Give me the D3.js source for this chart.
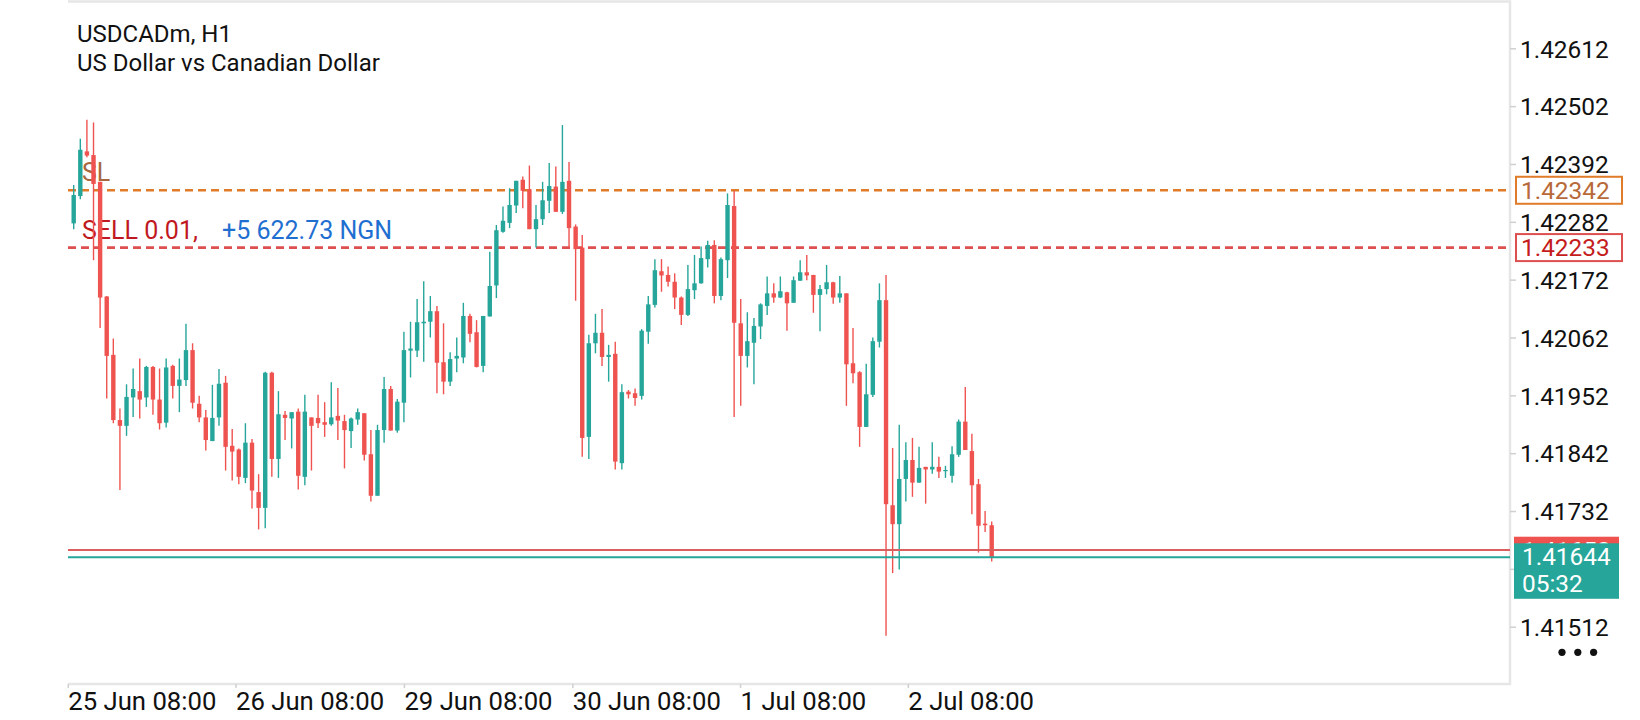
<!DOCTYPE html>
<html>
<head>
<meta charset="utf-8">
<script src="https://cdn.jsdelivr.net/npm/d3@7"></script>
<style>
  body { margin: 0; background: #fff; }
  svg { display: block; font-family: Roboto, "Noto Sans", sans-serif; }
</style>
</head>
<body>
<svg id="chart"></svg>
<script>
// USDCADm H1 candles
const open = [1.42279,1.42331,1.42416,1.42409,1.42358,1.42140,1.42029,1.41905,1.41894,1.41948,
  1.41960,1.41948,1.42006,1.41944,1.41900,1.42008,1.41970,1.41981,1.42038,1.41936,
  1.41910,1.41865,1.41910,1.41976,1.41856,1.41849,1.41795,1.41862,1.41768,1.41738,
  1.41995,1.41831,1.41915,1.41908,1.41921,1.41797,1.41910,1.41909,1.41901,1.41897,
  1.41913,1.41903,1.41884,1.41906,1.41918,1.41840,1.41761,1.41886,1.41964,1.41885,
  1.41938,1.42037,1.42037,1.42089,1.42092,1.42112,1.42015,1.41978,1.42022,1.42024,
  1.42103,1.42072,1.42008,1.42102,1.42161,1.42263,1.42280,1.42313,1.42362,1.42344,
  1.42268,1.42287,1.42322,1.42349,1.42301,1.42360,1.42273,1.42233,1.41873,1.42051,
  1.42071,1.42025,1.42031,1.41823,1.41959,1.41956,1.41951,1.42073,1.42124,1.42188,
  1.42181,1.42168,1.42138,1.42105,1.42152,1.42165,1.42211,1.42238,1.42141,1.42209,
  1.42312,1.42089,1.42027,1.42052,1.42083,1.42122,1.42146,1.42138,1.42148,1.42128,
  1.42170,1.42186,1.42181,1.42143,1.42154,1.42167,1.42138,1.42146,1.42013,1.41996,
  1.41892,1.41953,1.42054,1.42133,1.41743,1.41707,1.41793,1.41829,1.41786,1.41816,
  1.41811,1.41816,1.41809,1.41799,1.41839,1.41902,1.41846,1.41783,1.41708,1.41705];

const high = [1.42352,1.42440,1.42476,1.42471,1.42358,1.42141,1.42060,1.41927,1.41973,1.42003,
  1.42022,1.42008,1.42008,1.42003,1.42022,1.42010,1.42022,1.42088,1.42051,1.41951,
  1.41924,1.41972,1.42002,1.41989,1.41888,1.41851,1.41899,1.41869,1.41802,1.41997,
  1.41997,1.41960,1.41922,1.41920,1.41927,1.41953,1.41910,1.41953,1.41939,1.41977,
  1.41966,1.41915,1.41910,1.41927,1.41918,1.41886,1.41896,1.41987,1.41970,1.41945,
  1.42073,1.42092,1.42135,1.42169,1.42141,1.42122,1.42089,1.42034,1.42062,1.42128,
  1.42107,1.42095,1.42103,1.42225,1.42276,1.42311,1.42346,1.42360,1.42368,1.42389,
  1.42314,1.42358,1.42394,1.42387,1.42466,1.42396,1.42277,1.42257,1.42067,1.42107,
  1.42116,1.42048,1.42054,1.41973,1.41962,1.41965,1.42078,1.42141,1.42211,1.42211,
  1.42197,1.42184,1.42140,1.42200,1.42219,1.42235,1.42246,1.42247,1.42214,1.42336,
  1.42341,1.42135,1.42110,1.42099,1.42127,1.42178,1.42165,1.42178,1.42149,1.42178,
  1.42209,1.42219,1.42181,1.42162,1.42200,1.42168,1.42179,1.42146,1.42080,1.41998,
  1.42012,1.42062,1.42165,1.42181,1.41852,1.41896,1.41863,1.41871,1.41854,1.41816,
  1.41863,1.41835,1.41818,1.41855,1.41906,1.41968,1.41879,1.41793,1.41732,1.41712];

const low = [1.42268,1.42325,1.42405,1.42209,1.42080,1.41946,1.41899,1.41772,1.41875,1.41911,
  1.41908,1.41930,1.41915,1.41887,1.41891,1.41946,1.41920,1.41970,1.41927,1.41901,
  1.41847,1.41865,1.41894,1.41809,1.41790,1.41783,1.41785,1.41737,1.41697,1.41699,
  1.41797,1.41795,1.41867,1.41851,1.41773,1.41781,1.41809,1.41890,1.41873,1.41894,
  1.41867,1.41813,1.41852,1.41896,1.41828,1.41750,1.41761,1.41862,1.41885,1.41881,
  1.41901,1.41986,1.42025,1.42016,1.42062,1.41956,1.41954,1.41970,1.41996,1.42013,
  1.42053,1.42005,1.41996,1.42102,1.42137,1.42261,1.42270,1.42299,1.42308,1.42268,
  1.42233,1.42276,1.42299,1.42301,1.42297,1.42233,1.42132,1.41835,1.41831,1.42032,
  1.42008,1.41978,1.41811,1.41811,1.41946,1.41932,1.41944,1.42050,1.42119,1.42149,
  1.42159,1.42116,1.42086,1.42103,1.42135,1.42164,1.42195,1.42127,1.42133,1.42175,
  1.41911,1.41932,1.42005,1.41973,1.42059,1.42105,1.42128,1.42137,1.42075,1.42128,
  1.42170,1.42171,1.42109,1.42074,1.42144,1.42126,1.42128,1.41932,1.41975,1.41854,
  1.41892,1.41949,1.42043,1.41495,1.41614,1.41621,1.41750,1.41759,1.41786,1.41746,
  1.41803,1.41795,1.41795,1.41786,1.41835,1.41848,1.41726,1.41653,1.41692,1.41636];

const close = [1.42333,1.42419,1.42408,1.42354,1.42138,1.42027,1.41905,1.41894,1.41949,1.41964,
  1.41944,1.42006,1.41944,1.41899,1.42005,1.41970,1.41982,1.42038,1.41938,1.41910,
  1.41867,1.41909,1.41974,1.41854,1.41845,1.41797,1.41862,1.41771,1.41738,1.41995,
  1.41831,1.41916,1.41909,1.41920,1.41799,1.41921,1.41894,1.41899,1.41896,1.41910,
  1.41904,1.41886,1.41908,1.41920,1.41839,1.41761,1.41886,1.41964,1.41885,1.41940,
  1.42038,1.42041,1.42091,1.42092,1.42112,1.42014,1.41978,1.42021,1.42027,1.42103,
  1.42069,1.42006,1.42103,1.42160,1.42266,1.42284,1.42314,1.42360,1.42341,1.42268,
  1.42287,1.42323,1.42350,1.42301,1.42358,1.42270,1.42230,1.41871,1.42051,1.42071,
  1.42025,1.42029,1.41826,1.41958,1.41954,1.41947,1.42075,1.42125,1.42190,1.42180,
  1.42168,1.42138,1.42105,1.42154,1.42165,1.42213,1.42238,1.42141,1.42211,1.42314,
  1.42090,1.42027,1.42055,1.42084,1.42125,1.42146,1.42138,1.42150,1.42127,1.42171,
  1.42186,1.42180,1.42143,1.42154,1.42167,1.42138,1.42146,1.42011,1.41994,1.41892,
  1.41954,1.42055,1.42133,1.41745,1.41707,1.41793,1.41829,1.41786,1.41814,1.41811,
  1.41816,1.41807,1.41810,1.41840,1.41902,1.41848,1.41781,1.41704,1.41705,1.41644];

// axis ticks (1.41622 sits under the bid tag, so it gets no label)
const priceTicks = [1.42612,1.42502,1.42392,1.42282,1.42172,1.42062,1.41952,1.41842,1.41732,1.41622,1.41512];
const hiddenTick = 1.41622;
const timeTickBars = [-0.9, 24.5, 50, 75.5, 100.9, 126.3];
const timeTickLabels = ['25 Jun 08:00','26 Jun 08:00','29 Jun 08:00','30 Jun 08:00','1 Jul 08:00','2 Jul 08:00'];

// trade / quote levels
const slPrice = 1.42342;
const entryPrice = 1.42233;
const askPrice = 1.41658;
const bidPrice = 1.41644;
const timer = '05:32';

const width = 1640, height = 720;
const plotLeft = 68, plotRight = 1510, plotTop = 1.5, plotBottom = 684;
const green = '#26a69a', red = '#ef5350';
const fmt = d3.format('.5f');

const svg = d3.select('#chart')
  .attr('width', width)
  .attr('height', height);

const x = d3.scaleLinear().domain([0, open.length - 1]).range([73.7, 991.7]);
const y = d3.scaleLinear().domain([1.41512, 1.42612]).range([626.7, 48.3]);

// frame
svg.append('path')
  .attr('d', `M${plotLeft},${plotTop}H${plotRight}V${plotBottom}H${plotLeft}`)
  .attr('fill', 'none')
  .attr('stroke', '#e6e6e6')
  .attr('stroke-width', 2.5);

// title
svg.append('text').attr('x', 77).attr('y', 42)
  .attr('font-size', 24).attr('fill', '#111').text('USDCADm, H1');
svg.append('text').attr('x', 77).attr('y', 70.5)
  .attr('font-size', 24).attr('fill', '#111').text('US Dollar vs Canadian Dollar');

// price axis
const yAxis = svg.append('g')
  .attr('transform', `translate(${plotRight},0)`)
  .call(d3.axisRight(y).tickValues(priceTicks)
    .tickFormat(d => d === hiddenTick ? '' : fmt(d)).tickSize(6).tickPadding(4));
yAxis.select('.domain').remove();
yAxis.selectAll('line').attr('stroke', '#d0d0d0').attr('stroke-width', 1.5);
yAxis.selectAll('text').attr('font-size', 24.4).attr('fill', '#111')
  .attr('font-family', 'Roboto').attr('dy', '0.36em');

// time axis
const xAxis = svg.append('g')
  .attr('transform', `translate(0,${plotBottom})`)
  .call(d3.axisBottom(x).tickValues(timeTickBars).tickFormat((d, i) => timeTickLabels[i]).tickSize(4));
xAxis.select('.domain').remove();
xAxis.selectAll('line').attr('stroke', '#d0d0d0').attr('stroke-width', 1.5);
xAxis.selectAll('text')
  .attr('text-anchor', 'start')
  .attr('y', 26).attr('dy', 0)
  .attr('font-size', 25.7).attr('fill', '#111').attr('font-family', 'Roboto');

// level lines
svg.append('line')
  .attr('x1', plotLeft).attr('x2', plotRight)
  .attr('y1', y(slPrice)).attr('y2', y(slPrice))
  .attr('stroke', '#e07b29').attr('stroke-width', 2.6).attr('stroke-dasharray', '8 5');
svg.append('line')
  .attr('x1', plotLeft).attr('x2', plotRight)
  .attr('y1', y(entryPrice)).attr('y2', y(entryPrice))
  .attr('stroke', '#de4f4f').attr('stroke-width', 2.6).attr('stroke-dasharray', '8 5');

svg.append('text').attr('x', 82).attr('y', y(slPrice) - 9)
  .attr('font-size', 25).attr('fill', '#a8673e').text('SL');
svg.append('text').attr('x', 82).attr('y', y(entryPrice) - 9)
  .attr('font-size', 25).attr('fill', '#c0181e').text('SELL 0.01,');
svg.append('text').attr('x', 222).attr('y', y(entryPrice) - 9)
  .attr('font-size', 25).attr('fill', '#1f6fd1').text('+5 622.73 NGN');

// candles
const bars = d3.range(open.length);
const candles = svg.append('g');
candles.selectAll('line')
  .data(bars)
  .join('line')
  .attr('x1', i => x(i)).attr('x2', i => x(i))
  .attr('y1', i => y(high[i])).attr('y2', i => y(low[i]))
  .attr('stroke', i => close[i] >= open[i] ? green : red)
  .attr('stroke-width', 1.4);
candles.selectAll('rect')
  .data(bars)
  .join('rect')
  .attr('x', i => x(i) - 2.2)
  .attr('width', 4.4)
  .attr('y', i => y(Math.max(open[i], close[i])))
  .attr('height', i => Math.max(1.2, Math.abs(y(open[i]) - y(close[i]))))
  .attr('fill', i => close[i] >= open[i] ? green : red);

// bid / ask lines
svg.append('line')
  .attr('x1', plotLeft).attr('x2', plotRight)
  .attr('y1', y(askPrice)).attr('y2', y(askPrice))
  .attr('stroke', '#d9605f').attr('stroke-width', 2);
svg.append('line')
  .attr('x1', plotLeft).attr('x2', plotRight)
  .attr('y1', y(bidPrice)).attr('y2', y(bidPrice))
  .attr('stroke', green).attr('stroke-width', 2);

// price tags on the axis
function tag(price, stroke, color) {
  svg.append('rect')
    .attr('x', 1516).attr('y', y(price) - 13.5)
    .attr('width', 106).attr('height', 27)
    .attr('fill', '#fff').attr('stroke', stroke).attr('stroke-width', 2);
  svg.append('text')
    .attr('x', 1521).attr('y', y(price)).attr('dy', '0.36em')
    .attr('font-size', 24.4).attr('fill', color)
    .text(fmt(price));
}
tag(slPrice, '#e07b29', '#b8693a');
tag(entryPrice, '#de4f4f', '#c41c1c');

// ask tag: only its top strip shows above the bid tag
svg.append('defs').append('clipPath').attr('id', 'ask-clip')
  .append('rect')
  .attr('x', 1514).attr('y', y(askPrice) - 13.5)
  .attr('width', 105).attr('height', 7.5);
const askTag = svg.append('g').attr('clip-path', 'url(#ask-clip)');
askTag.append('rect')
  .attr('x', 1514).attr('y', y(askPrice) - 13.5)
  .attr('width', 105).attr('height', 27).attr('fill', red);
askTag.append('text')
  .attr('x', 1522).attr('y', y(askPrice)).attr('dy', '0.36em')
  .attr('font-size', 24.4).attr('fill', '#fff')
  .text(fmt(askPrice));

// bid tag with bar timer
svg.append('rect')
  .attr('x', 1514).attr('y', y(bidPrice) - 14)
  .attr('width', 105).attr('height', 55.5).attr('fill', green);
svg.append('text')
  .attr('x', 1522).attr('y', y(bidPrice) + 7.5)
  .attr('font-size', 24.4).attr('fill', '#fff')
  .text(fmt(bidPrice));
svg.append('text')
  .attr('x', 1522).attr('y', y(bidPrice) + 35)
  .attr('font-size', 24.4).attr('fill', '#fff')
  .text(timer);

// menu dots
svg.append('g').selectAll('circle')
  .data([0, 1, 2])
  .join('circle')
  .attr('cx', d => 1562 + d * 15.8)
  .attr('cy', 652.3)
  .attr('r', 3.6)
  .attr('fill', '#111');
</script>
</body>
</html>
